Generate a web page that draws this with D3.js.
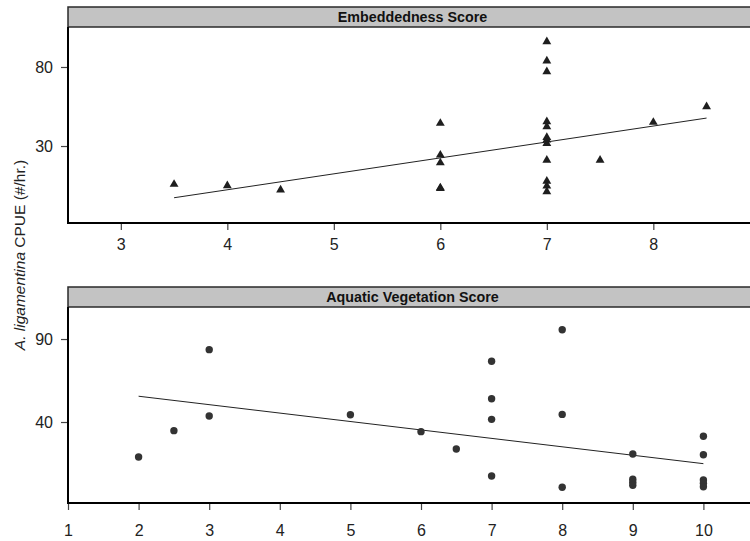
<!DOCTYPE html>
<html>
<head>
<meta charset="utf-8">
<script src="https://cdn.jsdelivr.net/npm/d3@7"></script>
<style>
  html, body { margin: 0; padding: 0; background: #fff; }
  svg { display: block; font-family: "Liberation Sans", Arial, Helvetica, sans-serif; }
</style>
</head>
<body>
<svg id="chart" width="750" height="541"></svg>
<script>
// Embeddedness score panel
const embX = [3.5, 4, 4.5, 6, 6, 6, 6, 6,
              7, 7, 7, 7, 7, 7, 7, 7, 7, 7, 7, 7,
              7.5, 8, 8.5];
const embY = [5.8, 4.9, 2.2, 44.4, 24.3, 19.4, 3.6, 3.2,
              96, 83.8, 77, 45.4, 42.2, 35.5, 33.8, 31.7, 21.1, 7.8, 4.7, 1.1,
              21.1, 45, 54.9];
const embFit = { intercept: -38.0, slope: 10.08 };
const embXTicks = [3, 4, 5, 6, 7, 8];
const embYTicks = [30, 80];

// Aquatic vegetation score panel
const vegX = [2, 2.5, 3, 3, 5, 6, 6.5,
              7, 7, 7, 7, 8, 8, 8,
              9, 9, 9, 9, 10, 10, 10, 10, 10];
const vegY = [18.9, 34.8, 83.6, 43.6, 44.4, 34.2, 23.7,
              76.6, 54, 41.6, 7.5, 95.6, 44.6, 0.7,
              20.7, 5.5, 3.7, 1.9, 31.4, 20.3, 5.1, 3.1, 1.0];
const vegFit = { intercept: 65.7, slope: -5.08 };
const vegXTicks = [1, 2, 3, 4, 5, 6, 7, 8, 9, 10];
const vegYTicks = [40, 90];

const svg = d3.select("#chart");

const panelLeft = 68, panelRight = 757;

function drawPanel(cfg) {
  const g = svg.append("g");
  const x = d3.scaleLinear().domain(cfg.xDomain).range([panelLeft, panelRight]);
  const y = d3.scaleLinear().domain(cfg.yDomain).range([cfg.bottom, cfg.top]);

  // strip with the panel title
  g.append("rect")
    .attr("x", panelLeft).attr("y", cfg.stripTop)
    .attr("width", panelRight - panelLeft + 10).attr("height", cfg.top - cfg.stripTop)
    .attr("fill", "#c3c3c3").attr("stroke", "#2a2a2a").attr("stroke-width", 1.5);
  g.append("text")
    .attr("x", (panelLeft + panelRight) / 2)
    .attr("y", cfg.stripTop + 15)
    .attr("text-anchor", "middle")
    .attr("font-size", 14.3).attr("font-weight", "bold").attr("fill", "#111")
    .text(cfg.title);

  // x axis
  const xAxis = d3.axisBottom(x).tickValues(cfg.xTicks).tickSize(7).tickPadding(0).tickFormat(d3.format("d"));
  const gx = g.append("g").attr("transform", `translate(0,${cfg.bottom})`).call(xAxis);
  gx.select(".domain").remove();
  gx.selectAll(".tick line").attr("stroke", "#444").attr("stroke-width", 1.2);
  gx.selectAll(".tick text").attr("font-size", 16).attr("fill", "#222")
    .attr("dy", null).attr("y", cfg.xLabelOffset);

  // y axis
  const yAxis = d3.axisLeft(y).tickValues(cfg.yTicks).tickSize(7).tickPadding(8);
  const gy = g.append("g").attr("transform", `translate(${panelLeft},0)`).call(yAxis);
  gy.select(".domain").remove();
  gy.selectAll(".tick line").attr("stroke", "#444").attr("stroke-width", 1.2);
  gy.selectAll(".tick text").attr("font-size", 16).attr("fill", "#222");

  // fitted line over the observed x range
  const [x0, x1] = d3.extent(cfg.xs);
  const fitLine = d3.line().x(d => x(d)).y(d => y(cfg.fit.intercept + cfg.fit.slope * d));
  g.append("path").datum([x0, x1])
    .attr("d", fitLine).attr("fill", "none")
    .attr("stroke", "#222").attr("stroke-width", 1);

  // points
  const pts = cfg.xs.map((v, i) => [v, cfg.ys[i]]);
  if (cfg.marker === "triangle") {
    g.selectAll("path.pt").data(pts).enter().append("path")
      .attr("class", "pt")
      .attr("d", d3.symbol().type(d3.symbolTriangle).size(34))
      .attr("transform", d => `translate(${x(d[0])},${y(d[1])})`)
      .attr("fill", "#1e1e1e");
  } else {
    g.selectAll("circle.pt").data(pts).enter().append("circle")
      .attr("class", "pt")
      .attr("cx", d => x(d[0])).attr("cy", d => y(d[1])).attr("r", 3.7)
      .attr("fill", "#333");
  }

  // panel frame (left and bottom edges)
  g.append("path")
    .attr("d", `M${panelLeft},${cfg.top}V${cfg.bottom}H${panelRight + 10}`)
    .attr("fill", "none").attr("stroke", "#000").attr("stroke-width", 2);
}

drawPanel({
  title: "Embeddedness Score",
  stripTop: 7, top: 27, bottom: 223,
  xDomain: [2.504, 2.504 + (panelRight - panelLeft) / 106.5],
  yDomain: [-18.7, 105.3],
  xTicks: embXTicks, yTicks: embYTicks,
  xLabelOffset: 27,
  xs: embX, ys: embY, fit: embFit, marker: "triangle"
});

drawPanel({
  title: "Aquatic Vegetation Score",
  stripTop: 287, top: 307, bottom: 503,
  xDomain: [1, 1 + (panelRight - panelLeft) / 70.6],
  yDomain: [-8.8, 109.3],
  xTicks: vegXTicks, yTicks: vegYTicks,
  xLabelOffset: 33,
  xs: vegX, ys: vegY, fit: vegFit, marker: "circle"
});

// shared y-axis title
const yTitle = svg.append("text")
  .attr("transform", "translate(25,255) rotate(-90)")
  .attr("text-anchor", "middle")
  .attr("font-size", 15.5).attr("fill", "#222");
yTitle.append("tspan").attr("font-style", "italic").text("A. ligamentina");
yTitle.append("tspan").text(" CPUE (#/hr.)");
</script>
</body>
</html>
